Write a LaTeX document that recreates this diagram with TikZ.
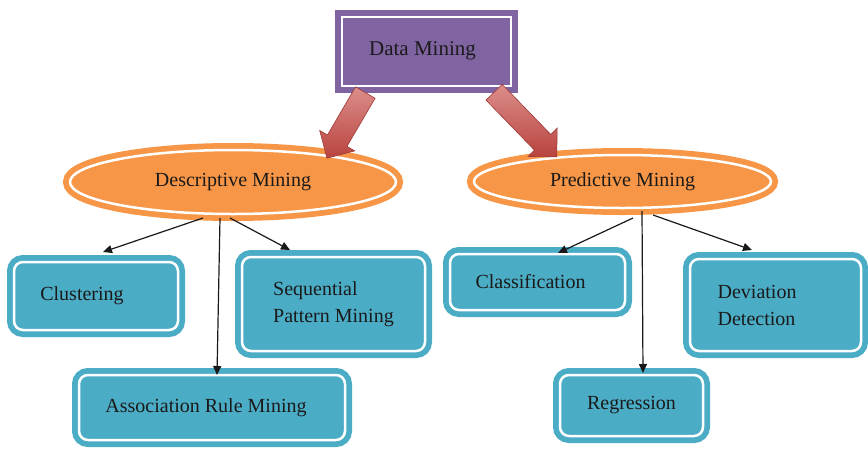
\documentclass[tikz,border=0pt]{standalone}
\usepackage{fontspec}
\setmainfont{Liberation Serif}
\usetikzlibrary{shapes.geometric,shapes.arrows,arrows.meta,calc}
\definecolor{dmpurple}{HTML}{8064A2}
\definecolor{morange}{HTML}{F79646}
\definecolor{mblue}{HTML}{4BACC6}
\definecolor{mred}{HTML}{B9433F}
\definecolor{mredlight}{HTML}{DC8E8A}
\definecolor{txt}{HTML}{1A1A1A}
\begin{document}
\begin{tikzpicture}[x=1pt,y=-1pt,
  every node/.style={font=\fontsize{20}{27}\selectfont, text=txt},
  topbox/.style={rectangle, fill=dmpurple, draw=white, line width=2.5pt, preaction={draw=dmpurple, line width=14pt}, inner sep=0pt, outer sep=7pt},
  mellipse/.style={ellipse, fill=morange, draw=white, line width=2.5pt, preaction={draw=morange, line width=14pt}, inner sep=0pt, outer sep=7pt},
  leafbox/.style={rectangle, rounded corners=9pt, fill=mblue, draw=white, line width=2.5pt, preaction={draw=mblue, line width=14pt}, inner sep=0pt, outer sep=7pt, align=left},
  thinarrow/.style={-{Triangle[length=9pt,width=8pt]}, line width=1.2pt, draw=black!90},
  bigarrow/.style={single arrow, top color=mredlight, bottom color=mred, draw=mred!85!black, line width=0.6pt, inner sep=0pt, single arrow head extend=9pt, single arrow head indent=0pt}
]
\useasboundingbox (0,0) rectangle (868,448);

% top node
\node[topbox, minimum width=169pt, minimum height=69pt] (dm) at (426.5,51.5)
  {\raisebox{6pt}{\fontsize{21}{26}\selectfont Data Mining}\hspace*{8pt}};

% ellipses
\node[mellipse, minimum width=326pt, minimum height=64pt] (desc) at (233,182) {Descriptive Mining};
\node[mellipse, minimum width=297pt, minimum height=53pt] (pred) at (622.5,181.5) {Predictive Mining};

% leaf boxes
\node[leafbox, minimum width=164pt, minimum height=68pt] (clu) at (96,296) {Clustering\hspace*{28pt}};
\node[leafbox, minimum width=183pt, minimum height=94pt] (seq) at (333.5,304) {Sequential\\Pattern Mining};
\node[leafbox, minimum width=266pt, minimum height=65pt] (asc) at (212,407.5) {Association Rule Mining\hspace*{12pt}};
\node[leafbox, minimum width=175pt, minimum height=56pt] (cls) at (537.5,282) {\raisebox{-3pt}{Classification}\hspace*{14pt}};
\node[leafbox, minimum width=171pt, minimum height=92pt] (dev) at (775.5,305) {Deviation\\Detection\hspace*{38pt}};
\node[leafbox, minimum width=143pt, minimum height=61pt] (reg) at (631.5,405.5) {\raisebox{-5pt}{Regression}};

% big red arrows
\node[bigarrow, minimum height=76pt, rotate=239.7] (arrL) at (349,120.5) {\rule{0pt}{22pt}};
\node[bigarrow, minimum height=90pt, rotate=314.1] (arrR) at (521.5,120.5) {\rule{0pt}{22pt}};

% thin connectors
\draw[thinarrow] ($(desc.south)+(-30,-3)$) -- ($(clu.north)+(7,-3)$);
\draw[thinarrow] ($(desc.south)+(-13,-3)$) -- ($(asc.north)+(5,7)$);
\draw[thinarrow] ($(desc.south)+(-3,-3)$) -- ($(seq.north)+(-43.5,0)$);
\draw[thinarrow] ($(pred.south)+(10.5,3)$) -- ($(cls.north)+(20.5,6)$);
\draw[thinarrow] ($(pred.south)+(19.5,-4)$) -- ($(reg.north)+(11.5,5)$);
\draw[thinarrow] ($(pred.south)+(30.5,0)$) -- ($(dev.north)+(-23.5,-2)$);
\end{tikzpicture}
\end{document}
